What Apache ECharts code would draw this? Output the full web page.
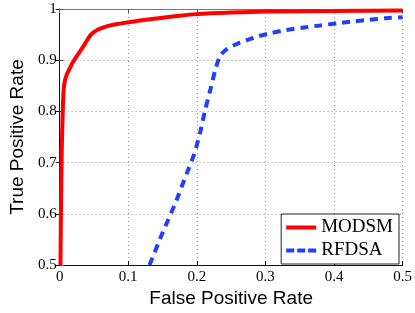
<!DOCTYPE html>
<html><head><meta charset="utf-8">
<script src="https://cdn.jsdelivr.net/npm/echarts@6/dist/echarts.min.js"></script>
<style>html,body{margin:0;padding:0;background:#fff}#c{width:415px;height:313px}</style>
</head><body><div id="c"></div>
<script>
const seriesNames = ['MODSM', 'RFDSA'];
const modsmFpr = [0.0012,0.002,0.003,0.0045,0.006,0.008,0.011,0.014,0.018,0.022,0.026,0.030,0.035,0.040,0.045,0.050,0.056,0.064,0.074,0.086,0.1,0.12,0.15,0.175,0.2,0.25,0.3,0.4,0.5];
const modsmTpr = [0.50,0.62,0.72,0.80,0.845,0.862,0.874,0.882,0.893,0.902,0.910,0.918,0.928,0.939,0.949,0.955,0.960,0.964,0.968,0.971,0.974,0.978,0.983,0.987,0.990,0.993,0.995,0.996,0.997];
const rfdsaFpr = [0.131,0.150,0.169,0.185,0.196,0.205,0.2125,0.220,0.227,0.234,0.242,0.251,0.262,0.275,0.290,0.308,0.330,0.356,0.380,0.404,0.430,0.451,0.475,0.5];
const rfdsaTpr = [0.50,0.563,0.622,0.678,0.716,0.760,0.805,0.844,0.882,0.909,0.920,0.927,0.934,0.940,0.947,0.953,0.959,0.964,0.968,0.972,0.976,0.979,0.982,0.984];
const xTicks = [0, 0.1, 0.2, 0.3, 0.4, 0.5];
const yTicks = [0.5, 0.6, 0.7, 0.8, 0.9, 1];

const serif = 'Liberation Serif';
const sans = 'Liberation Sans';
const chart = echarts.init(document.getElementById('c'));
const pair = (xs, ys) => xs.map((x, i) => [x, ys[i]]);
const fmt = v => String(Math.round(v * 10) / 10);
chart.setOption({
  animation: false,
  backgroundColor: '#fff',
  grid: {left: 55, right: 11, top: 9, bottom: 45},
  legend: {
    orient: 'vertical', right: 16, top: 214,
    data: [
      {name: seriesNames[0], icon: 'path://M0,0H30V4H0Z'},
      {name: seriesNames[1], icon: 'path://M0,0H8V4H0Z M11,0H19V4H11Z M22,0H30V4H22Z'}
    ],
    backgroundColor: '#fff', borderColor: '#222', borderWidth: 1,
    padding: [4, 6, 4, 5], itemGap: 4, itemWidth: 30, itemHeight: 4,
    textStyle: {fontFamily: serif, fontSize: 19, color: '#000'}
  },
  xAxis: [{
    type: 'value', min: 0, max: 0.5, interval: 0.1,
    name: 'False Positive Rate', nameLocation: 'middle', nameGap: 20,
    nameTextStyle: {fontFamily: sans, fontSize: 19, color: '#000'},
    axisLine: {lineStyle: {color: '#111', width: 1}},
    axisTick: {inside: true, length: 4, lineStyle: {color: '#111'}},
    axisLabel: {fontFamily: serif, fontSize: 15, color: '#000', margin: 4, formatter: fmt},
    splitLine: {show: true, lineStyle: {type: [1, 3], color: '#999', width: 1}}
  }, {
    type: 'value', min: 0, max: 0.5, interval: 0.1, position: 'top',
    axisLine: {show: true, lineStyle: {color: '#777', width: 1}},
    axisTick: {show: true, inside: true, length: 4, lineStyle: {color: '#555'}},
    axisLabel: {show: false}, splitLine: {show: false}
  }],
  yAxis: [{
    type: 'value', min: 0.5, max: 1, interval: 0.1,
    name: 'True Positive Rate', nameLocation: 'middle', nameGap: 30,
    nameTextStyle: {fontFamily: sans, fontSize: 19, color: '#000'},
    axisLine: {show: true, lineStyle: {color: '#777', width: 1}},
    axisTick: {show: true, inside: true, length: 4, lineStyle: {color: '#555'}},
    axisLabel: {fontFamily: serif, fontSize: 15, color: '#000', margin: 3, formatter: fmt},
    splitLine: {show: true, lineStyle: {type: [1, 3], color: '#999', width: 1}}
  }, {
    type: 'value', min: 0.5, max: 1, interval: 0.1, position: 'right',
    axisLine: {show: true, lineStyle: {color: '#111', width: 1}},
    axisTick: {show: true, inside: true, length: 4, lineStyle: {color: '#111'}},
    axisLabel: {show: false}, splitLine: {show: false}
  }],
  series: [{
    name: seriesNames[0], type: 'line', xAxisIndex: 0, yAxisIndex: 0,
    data: pair(modsmFpr, modsmTpr), symbol: 'none', smooth: 0.3,
    lineStyle: {color: '#ff0000', width: 4}, itemStyle: {color: '#ff0000'}, z: 3
  }, {
    name: seriesNames[1], type: 'line', xAxisIndex: 0, yAxisIndex: 0,
    data: pair(rfdsaFpr, rfdsaTpr), symbol: 'none', smooth: 0.2,
    lineStyle: {color: '#1f3fff', width: 4, type: [8, 6]}, itemStyle: {color: '#1f3fff'}, z: 2
  }]
});
</script></body></html>
